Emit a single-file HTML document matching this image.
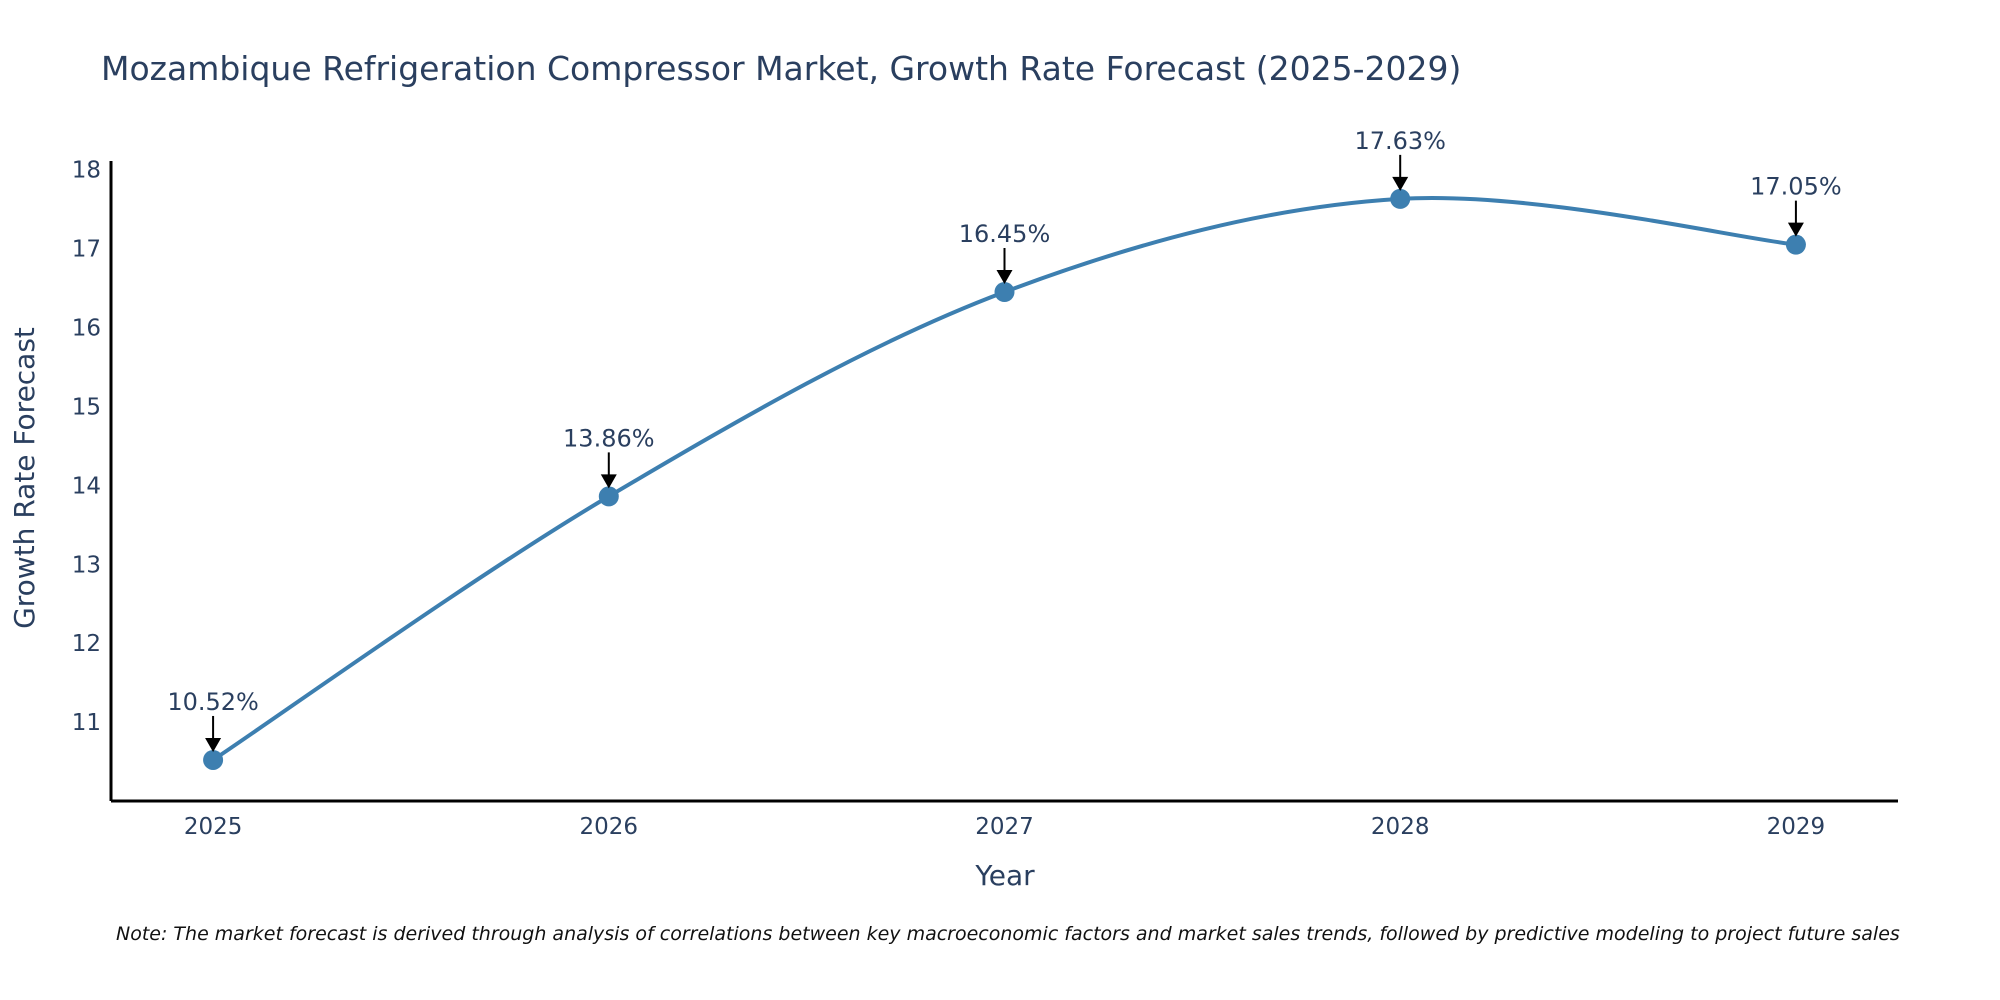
<!DOCTYPE html>
<html><head><meta charset="utf-8"><style>
body{margin:0;background:#fff;}
svg{display:block;font-family:"DejaVu Sans","Liberation Sans",sans-serif;}
</style></head><body>
<svg id="chart" width="2000" height="1000" viewBox="0 0 2000 1000">
<text x="101" y="80" font-size="33" fill="#2a3f5f">Mozambique Refrigeration Compressor Market, Growth Rate Forecast (2025-2029)</text>
<g id="axes"></g>
<g id="series"></g>
<g id="annots"></g>
<text x="1005" y="885" font-size="28" fill="#2a3f5f" text-anchor="middle">Year</text>
<text x="0" y="0" font-size="28" fill="#2a3f5f" text-anchor="middle" transform="translate(34,478) rotate(-90)">Growth Rate Forecast</text>
<text x="116" y="940" font-size="19" font-style="italic" fill="#111">Note: The market forecast is derived through analysis of correlations between key macroeconomic factors and market sales trends, followed by predictive modeling to project future sales</text>
</svg>
<script>
const years = [2025, 2026, 2027, 2028, 2029];
const values = [10.52, 13.86, 16.45, 17.63, 17.05];
const valueLabels = ["10.52%", "13.86%", "16.45%", "17.63%", "17.05%"];
const yTicks = [11, 12, 13, 14, 15, 16, 17, 18];

const NS = "http://www.w3.org/2000/svg";
const L = 111, R = 1898, T = 161, B = 801;
const x0 = 2024.742, x1 = 2029.258, y0 = 10.0, y1 = 18.11;
const xs = v => L + (v - x0) / (x1 - x0) * (R - L);
const ys = v => B - (v - y0) / (y1 - y0) * (B - T);
function mk(tag, attrs, parent) {
  const e = document.createElementNS(NS, tag);
  for (const k in attrs) e.setAttribute(k, attrs[k]);
  parent.appendChild(e); return e;
}
const axes = document.getElementById('axes');
const series = document.getElementById('series');
const annots = document.getElementById('annots');

const xa = mk('line', {x1: L, y1: B, x2: R, y2: B, stroke: '#000', 'stroke-width': 3}, axes);


const ya = mk('line', {x1: L, y1: T, x2: L, y2: B, stroke: '#000', 'stroke-width': 3}, axes);



yTicks.forEach(t => {
  const e = mk('text', {x: L - 10, y: ys(t) + 8, 'font-size': 23, fill: '#2a3f5f', 'text-anchor': 'end'}, axes);
  e.textContent = t;
  
  
});
years.forEach(t => {
  const e = mk('text', {x: xs(t), y: B + 33, 'font-size': 23, fill: '#2a3f5f', 'text-anchor': 'middle'}, axes);
  e.textContent = t;
  
  
});

const pts = years.map((y, i) => [xs(y), ys(values[i])]);
let d = `M${pts[0][0]},${pts[0][1]}`;
for (let i = 0; i < pts.length - 1; i++) {
  const p0 = pts[Math.max(i - 1, 0)], p1 = pts[i], p2 = pts[i + 1], p3 = pts[Math.min(i + 2, pts.length - 1)];
  const c1 = [p1[0] + (p2[0] - p0[0]) / 6, p1[1] + (p2[1] - p0[1]) / 6];
  const c2 = [p2[0] - (p3[0] - p1[0]) / 6, p2[1] - (p3[1] - p1[1]) / 6];
  d += ` C${c1[0]},${c1[1]} ${c2[0]},${c2[1]} ${p2[0]},${p2[1]}`;
}
const line = mk('path', {d: d, fill: 'none', stroke: '#3d7fb0', 'stroke-width': 4}, series);



pts.forEach((p, i) => {
  const c = mk('circle', {cx: p[0], cy: p[1], r: 10, fill: '#3d7fb0'}, series);
  
  
  const a = mk('line', {x1: p[0], y1: p[1] - 44, x2: p[0], y2: p[1] - 20, stroke: '#000', 'stroke-width': 2}, annots);
  
  
  const h = mk('polygon', {points: `${p[0]-8},${p[1]-22} ${p[0]+8},${p[1]-22} ${p[0]},${p[1]-8}`, fill: '#000'}, annots);
  
  
  const t = mk('text', {x: p[0], y: p[1] - 50, 'font-size': 24, fill: '#2a3f5f', 'text-anchor': 'middle'}, annots);
  t.textContent = valueLabels[i];
  
  
});
</script>
</body></html>
